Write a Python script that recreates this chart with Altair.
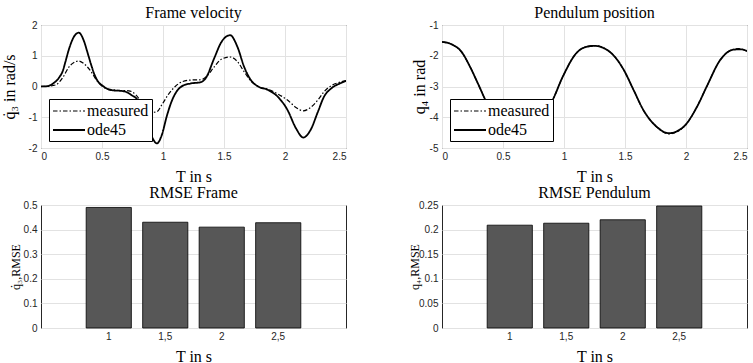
import altair as alt
import pandas as pd

# ---------------- data ----------------
series = ["measured", "ode45"]

# Frame velocity (rad/s)
t_frame_ode = [0, 0.05, 0.1, 0.15, 0.178, 0.2, 0.232, 0.27, 0.31, 0.35, 0.38, 0.41, 0.44, 0.47, 0.5,
               0.55, 0.6, 0.65, 0.7, 0.75, 0.78, 0.82, 0.86, 0.9, 0.95, 0.99, 1.03, 1.07, 1.11, 1.16,
               1.23, 1.31, 1.35, 1.42, 1.475, 1.55, 1.61, 1.665, 1.72, 1.78, 1.86, 1.94, 2.02, 2.09,
               2.15, 2.21, 2.27, 2.32, 2.38, 2.45, 2.5]
v_frame_ode = [0, 0.01, 0.1, 0.3, 0.5, 0.8, 1.25, 1.62, 1.75, 1.5, 1.12, 0.72, 0.37, 0.15, 0.04,
               -0.09, -0.13, -0.14, -0.18, -0.3, -0.38, -0.65, -1.1, -1.55, -1.85, -1.58, -0.98, -0.49, -0.17, 0.02,
               0.1, 0.14, 0.27, 0.92, 1.42, 1.67, 1.29, 0.64, 0.21, 0.0, -0.11, -0.33, -0.76, -1.36,
               -1.66, -1.41, -0.82, -0.33, -0.06, 0.1, 0.18]

t_frame_meas = [0, 0.06, 0.12, 0.18, 0.23, 0.27, 0.31, 0.35, 0.4, 0.46, 0.52, 0.58, 0.64, 0.72, 0.78,
                0.82, 0.86, 0.91, 0.95, 0.99, 1.04, 1.1, 1.16, 1.23, 1.31, 1.35, 1.42, 1.475, 1.55, 1.61,
                1.665, 1.72, 1.78, 1.86, 1.94, 2.02, 2.09, 2.15, 2.21, 2.27, 2.32, 2.38, 2.45, 2.5]
v_frame_meas = [0, 0.01, 0.05, 0.3, 0.64, 0.78, 0.83, 0.75, 0.54, 0.18, -0.04, -0.1, -0.13, -0.14, -0.28,
                -0.5, -0.75, -0.84, -0.82, -0.6, -0.28, 0.0, 0.16, 0.21, 0.22, 0.3, 0.64, 0.88, 0.96, 0.81,
                0.48, 0.18, 0.0, -0.09, -0.24, -0.44, -0.68, -0.79, -0.68, -0.44, -0.17, 0.03, 0.14, 0.19]

# Pendulum position (rad)
t_pend_ode = [0, 0.08, 0.16, 0.23, 0.3, 0.36, 0.45, 0.54, 0.62, 0.7, 0.8, 0.9, 0.99, 1.1, 1.185,
              1.25, 1.32, 1.42, 1.49, 1.57, 1.65, 1.76, 1.86, 1.98, 2.09, 2.17, 2.28, 2.39, 2.45, 2.5]
q_pend_ode = [-1.55, -1.63, -1.87, -2.36, -2.95, -3.47, -4.05, -4.4, -4.5, -4.4, -4.0, -3.49, -2.68, -1.92, -1.71,
              -1.68, -1.74, -2.05, -2.46, -3.11, -3.76, -4.31, -4.52, -4.31, -3.66, -3.0, -2.14, -1.8, -1.79, -1.85]

t_pend_meas = [0, 0.08, 0.16, 0.23, 0.3, 0.36, 0.45, 0.54, 0.62, 0.7, 0.8, 0.9, 0.99, 1.1, 1.185,
               1.25, 1.32, 1.42, 1.49, 1.57, 1.65, 1.76, 1.86, 1.98, 2.09, 2.17, 2.28, 2.39, 2.43, 2.47, 2.5]
q_pend_meas = [-1.55, -1.63, -1.88, -2.36, -2.96, -3.47, -4.05, -4.41, -4.5, -4.41, -4.0, -3.5, -2.68, -1.92, -1.7,
               -1.67, -1.74, -2.05, -2.47, -3.11, -3.77, -4.32, -4.54, -4.32, -3.66, -3.0, -2.14, -1.79, -1.77, -1.8, -1.84]

# RMSE bars
T_labels = ["1", "1,5", "2", "2,5"]
rmse_frame = [0.49, 0.43, 0.41, 0.428]
rmse_pend = [0.209, 0.213, 0.22, 0.248]

# ---------------- styling ----------------
SERIF = "Liberation Serif"
SANS = "Liberation Sans"
PW, PH = 305, 123
HYPHEN = "replace(datum.label, '\u2212', '-')"


def long_df(t_meas, v_meas, t_ode, v_ode):
    return pd.concat([
        pd.DataFrame({"t": t_meas, "v": v_meas, "s": "measured"}),
        pd.DataFrame({"t": t_ode, "v": v_ode, "s": "ode45"}),
    ], ignore_index=True)


def ttl(text):
    return alt.TitleParams(text, frame="group", dy=6)


def line_panel(df, title, ytitle, ydom, yvals, ytitle_x):
    return alt.Chart(df).mark_line(color="black", clip=True, interpolate="monotone").encode(
        x=alt.X("t:Q", scale=alt.Scale(domain=[0, 2.5], nice=False, zero=False),
                axis=alt.Axis(values=[0, 0.5, 1, 1.5, 2, 2.5], format="~g", title="T in s")),
        y=alt.Y("v:Q", scale=alt.Scale(domain=ydom, nice=False, zero=False),
                axis=alt.Axis(values=yvals, format="~g", labelExpr=HYPHEN, title=ytitle,
                              titleX=ytitle_x, titleBaseline="middle")),
        strokeDash=alt.StrokeDash(
            "s:N",
            scale=alt.Scale(domain=series, range=[[4.5, 2, 1.5, 2], [1, 0]]),
            legend=alt.Legend(title=None, orient="none", legendX=8, legendY=74,
                              fillColor="white", strokeColor="black", padding=3,
                              symbolType="M-1,0H3", symbolSize=256, symbolStrokeWidth=1.5,
                              symbolStrokeColor="black", symbolFillColor="transparent",
                              labelFont=SERIF, labelFontSize=16,
                              labelColor="black", labelOffset=17, rowPadding=2, cornerRadius=0)),
        strokeWidth=alt.StrokeWidth("s:N", scale=alt.Scale(domain=series, range=[1.2, 1.8]), legend=None),
    ).properties(width=PW, height=PH, title=ttl(title))


def bar_panel(vals, title, ytitle, ydom, yvals, ytitle_x):
    df = pd.DataFrame({"T": T_labels, "r": vals})
    return alt.Chart(df).mark_bar(color="#575757", stroke="black", strokeWidth=0.8).encode(
        x=alt.X("T:N", sort=T_labels, scale=alt.Scale(paddingInner=0.2, paddingOuter=0.8),
                axis=alt.Axis(title="T in s", labelAngle=0, grid=False)),
        y=alt.Y("r:Q", scale=alt.Scale(domain=ydom, nice=False),
                axis=alt.Axis(values=yvals, format="~g", title=ytitle, titleX=ytitle_x,
                              titleBaseline="middle", titleFontSize=12)),
    ).properties(width=PW, height=PH, title=ttl(title))


tl = line_panel(long_df(t_frame_meas, v_frame_meas, t_frame_ode, v_frame_ode),
                "Frame velocity", "q\u0307\u2083 in rad/s", [-2, 2], [-2, -1, 0, 1, 2], -32)
tr = line_panel(long_df(t_pend_meas, q_pend_meas, t_pend_ode, q_pend_ode),
                "Pendulum position", "q\u2084 in rad", [-5, -1], [-5, -4, -3, -2, -1], -23)
bl = bar_panel(rmse_frame, "RMSE Frame", "q\u0307\u2083,RMSE", [0, 0.5],
               [0, 0.1, 0.2, 0.3, 0.4, 0.5], -26)
br = bar_panel(rmse_pend, "RMSE Pendulum", "q\u2084,RMSE", [0, 0.25],
               [0, 0.05, 0.1, 0.15, 0.2, 0.25], -28)

chart = alt.ConcatChart(
    concat=[tl, tr, bl, br], columns=2,
    spacing=alt.RowColnumber(row=57, column=96), bounds="flush",
).resolve_scale(
    x="independent", y="independent", strokeDash="independent", strokeWidth="independent"
).resolve_legend(strokeDash="independent").properties(
    padding={"left": 0, "top": 4, "right": 0, "bottom": 0},
    background="white",
).configure_view(
    stroke="#262626", strokeWidth=1
).configure_axis(
    domain=False, ticks=False, grid=True, gridColor="#e2e2e2", gridWidth=1,
    labelFont=SANS, labelFontSize=10, labelColor="#262626", labelPadding=4,
    titleFont=SERIF, titleFontSize=16, titleFontWeight="normal", titleColor="black",
).configure_axisX(
    labelPadding=3, titlePadding=7
).configure_title(
    font=SERIF, fontSize=16, fontWeight="normal", color="black", offset=5, anchor="middle"
)

chart.save("out.html", embed_options={"renderer": "svg", "actions": False})
